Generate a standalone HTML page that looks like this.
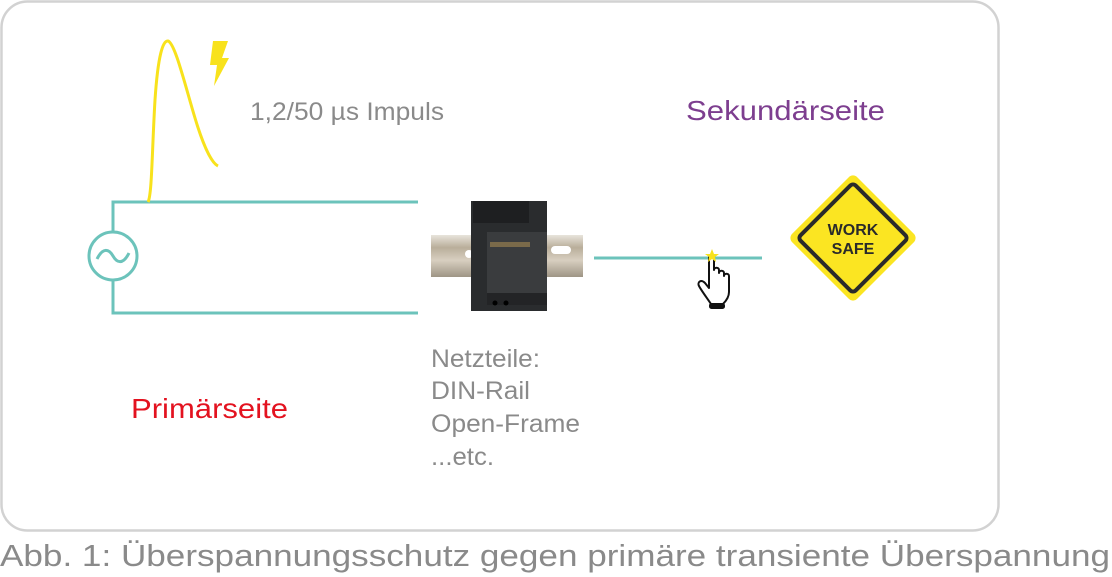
<!DOCTYPE html>
<html><head><meta charset="utf-8"><style>
html,body{margin:0;padding:0;background:#fff;width:1112px;height:577px;overflow:hidden}
svg{display:block}
</style></head><body>
<svg width="1112" height="577" viewBox="0 0 1112 577" xmlns="http://www.w3.org/2000/svg">
<defs>
<linearGradient id="rail" x1="0" y1="0" x2="0" y2="1">
<stop offset="0" stop-color="#e8e4dc"/><stop offset="0.3" stop-color="#b9ae9a"/><stop offset="0.6" stop-color="#d8cfc0"/><stop offset="1" stop-color="#9e9585"/>
</linearGradient>
</defs>
<rect x="1.5" y="1.5" width="997" height="529" rx="26" fill="#fff" stroke="#d2d2d2" stroke-width="2.5"/>
<g stroke="#6cc3bb" stroke-width="3" fill="none">
<polyline points="418,202 113,202 113,232"/>
<polyline points="418,313 113,313 113,280"/>
<circle cx="113" cy="256" r="24"/>
<path d="M97,259 C103,247 109,249 113,256 C117,263 123,265 129,253"/>
<line x1="594" y1="258" x2="762" y2="258"/>
</g>
<path d="M148,202 C152,195 152,150 155,100 C158,55 163,40 168,41 C175,43 185,85 195,118 C204,148 212,163 218,166" stroke="#f8e21c" stroke-width="3" fill="none"/>
<polygon points="213,41 228,41 222,58 229,58 214,86 217,65 210,65" fill="#f8e21c"/>
<text x="250" y="120" font-family="Liberation Sans, sans-serif" font-size="25" fill="#8a8a8a" textLength="194" lengthAdjust="spacingAndGlyphs">1,2/50 µs Impuls</text>
<text x="686" y="120" font-family="Liberation Sans, sans-serif" font-size="28" fill="#7d3e8f" textLength="199" lengthAdjust="spacingAndGlyphs">Sekundärseite</text>
<text x="131" y="418" font-family="Liberation Sans, sans-serif" font-size="28" fill="#e3121f" textLength="157" lengthAdjust="spacingAndGlyphs">Primärseite</text>
<g font-family="Liberation Sans, sans-serif" font-size="25" fill="#8a8a8a">
<text x="431" y="367" textLength="109" lengthAdjust="spacingAndGlyphs">Netzteile:</text>
<text x="431" y="399" textLength="99" lengthAdjust="spacingAndGlyphs">DIN-Rail</text>
<text x="431" y="432" textLength="149" lengthAdjust="spacingAndGlyphs">Open-Frame</text>
<text x="431" y="465" textLength="63" lengthAdjust="spacingAndGlyphs">...etc.</text>
</g>
<rect x="431" y="235" width="152" height="42" fill="url(#rail)"/>
<rect x="465" y="250" width="8" height="8" rx="4" fill="#fff"/>
<rect x="551" y="246" width="20" height="8" rx="4" fill="#fff"/>
<rect x="471" y="201" width="76" height="110" fill="#2a2c2e"/>
<rect x="473" y="201" width="56" height="22" fill="#1e1f21"/>
<rect x="487" y="232" width="60" height="62" fill="#3a3c3e"/>
<rect x="490" y="242" width="40" height="5" fill="#7a6a4a"/>
<rect x="487" y="293" width="60" height="12" fill="#232426"/>
<circle cx="495" cy="303" r="2.5" fill="#000"/><circle cx="506" cy="303" r="2.5" fill="#000"/>
<g transform="translate(697,252)" stroke="#111" stroke-width="2" fill="#fff" stroke-linejoin="round">
<path d="M12,6 C12,2 17,2 17,6 L17,18 C17,15 22,15 22,18 L22,21 C22,18 27,18 27,21 L27,24 C27,21 32,21 32,24 L32,40 C32,46 28,50 26,52 L14,52 C10,46 4,38 2,34 C0,30 4,27 8,31 L12,36 Z"/>
<rect x="13" y="52" width="14" height="4" rx="1.5" fill="#111"/>
</g>
<polygon points="712,249 714,254 719,254 715,257 716,262 712,259 708,262 709,257 705,254 710,254" fill="#f8e21c"/>
<rect x="807" y="192" width="92" height="92" rx="6" transform="rotate(45 853 238)" fill="#fbe522"/>
<rect x="814" y="199" width="78" height="78" rx="4" transform="rotate(45 853 238)" fill="none" stroke="#2a2a2a" stroke-width="4"/>
<g font-family="Liberation Sans, sans-serif" font-size="16" font-weight="bold" fill="#2a2a2a" text-anchor="middle">
<text x="853" y="235">WORK</text>
<text x="853" y="254">SAFE</text>
</g>
<text x="0" y="566" font-family="Liberation Sans, sans-serif" font-size="31" fill="#8a8a8a" textLength="1110" lengthAdjust="spacingAndGlyphs">Abb. 1: Überspannungsschutz gegen primäre transiente Überspannung</text>
</svg>
</body></html>
